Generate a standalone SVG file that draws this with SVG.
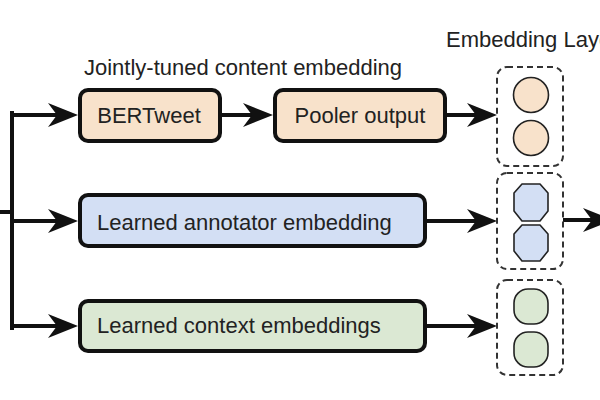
<svg xmlns="http://www.w3.org/2000/svg" width="600" height="400" viewBox="0 0 600 400">
  <style>
    .box { stroke: #111; stroke-width: 4; }
    .lbl { font-family: "Liberation Sans", Arial, sans-serif; font-size: 22px; fill: #222; }
    .title { font-family: "Liberation Sans", Arial, sans-serif; font-size: 22px; fill: #222; }
    .dash { fill: none; stroke: #333; stroke-width: 2; stroke-dasharray: 6 4; }
    .unit { stroke: #222; stroke-width: 1.6; }
    .edge { fill: none; stroke: #111; stroke-width: 4; }
    .peach { fill: #f8e2cb; }
    .blue { fill: #d3dff4; }
    .green { fill: #dbe8d3; }
  </style>
  <defs>
    <marker id="arr" markerUnits="userSpaceOnUse" viewBox="0 0 30 24" refX="15" refY="12" markerWidth="30" markerHeight="24" orient="auto">
      <path d="M0,0 L30,12 L0,24 L9,12 Z" fill="#111"/>
    </marker>
  </defs>

  <rect width="600" height="400" fill="#fff"/>

  <text class="title" x="84" y="75">Jointly-tuned content embedding</text>
  <text class="title" x="446" y="47">Embedding Layer</text>

  <g id="connectors">
    <path class="edge" d="M0,212 H12"/>
    <path class="edge" d="M12,113 V328" stroke-linecap="square"/>
    <path class="edge" d="M12,115 H63" marker-end="url(#arr)"/>
    <path class="edge" d="M12,221 H63" marker-end="url(#arr)"/>
    <path class="edge" d="M12,326 H63" marker-end="url(#arr)"/>
    <path class="edge" d="M222,115 H258" marker-end="url(#arr)"/>
    <path class="edge" d="M447,115 H482" marker-end="url(#arr)"/>
    <path class="edge" d="M427,221 H482" marker-end="url(#arr)"/>
    <path class="edge" d="M427,326 H482" marker-end="url(#arr)"/>
    <path class="edge" d="M563,220 H598" marker-end="url(#arr)"/>
  </g>

  <g id="bertweet">
    <rect class="box peach" x="80" y="90" width="140" height="51" rx="8"/>
    <text class="lbl" x="149" y="123" text-anchor="middle">BERTweet</text>
  </g>
  <g id="pooler">
    <rect class="box peach" x="275" y="90" width="170" height="51" rx="8"/>
    <text class="lbl" x="360" y="123" text-anchor="middle">Pooler output</text>
  </g>
  <g id="annotator">
    <rect class="box blue" x="80" y="195" width="345" height="51" rx="8"/>
    <text class="lbl" x="97" y="230">Learned annotator embedding</text>
  </g>
  <g id="context">
    <rect class="box green" x="80" y="301" width="345" height="50" rx="8"/>
    <text class="lbl" x="97" y="333">Learned context embeddings</text>
  </g>

  <g id="emb-content">
    <rect class="dash" x="497" y="67" width="66" height="99" rx="10"/>
    <circle class="unit peach" cx="531" cy="95" r="17.5"/>
    <circle class="unit peach" cx="531" cy="138" r="17.5"/>
  </g>
  <g id="emb-annotator">
    <rect class="dash" x="497" y="173" width="66" height="96" rx="10"/>
    <polygon class="unit blue" stroke-linejoin="round" points="522,184 540,184 548,193 548,211 540,221 522,221 514,211 514,193"/>
    <polygon class="unit blue" stroke-linejoin="round" points="522,225 540,225 548,234 548,251 540,261 522,261 514,251 514,234"/>
  </g>
  <g id="emb-context">
    <rect class="dash" x="497" y="280" width="66" height="95" rx="10"/>
    <rect class="unit green" x="514" y="289" width="34" height="35" rx="14"/>
    <rect class="unit green" x="514" y="332" width="34" height="35" rx="14"/>
  </g>
</svg>
